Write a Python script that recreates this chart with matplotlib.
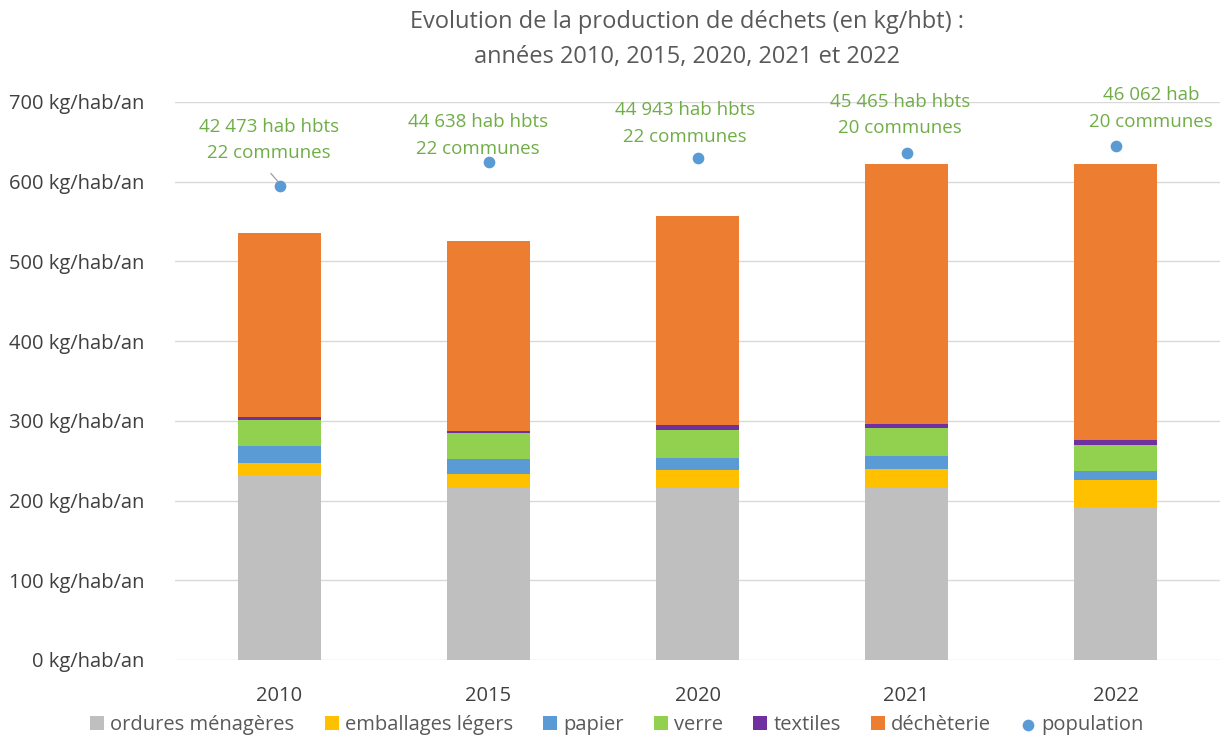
import matplotlib
matplotlib.use("Agg")
import matplotlib.pyplot as plt
import numpy as np

plt.rcParams['font.family'] = ['Open Sans', 'DejaVu Sans']

years = ["2010", "2015", "2020", "2021", "2022"]
ordures = [231.5, 216, 216, 216, 192]
emballages = [15.7, 17.6, 22.5, 23.7, 34.3]
papier = [21.8, 18.4, 15.0, 15.6, 10.4]
verre = [31.8, 32.2, 35.6, 35.4, 33.5]
textiles = [4.1, 3.2, 5.4, 5.4, 5.4]
decheterie = [231, 238, 262, 325.5, 346]
population = [42473, 44638, 44943, 45465, 46062]
pop_labels = ["42 473 hab hbts\n22 communes", "44 638 hab hbts\n22 communes",
              "44 943 hab hbts\n22 communes", "45 465 hab hbts\n20 communes",
              "46 062 hab\n20 communes"]
yticks = [0, 100, 200, 300, 400, 500, 600, 700]

series = [("ordures ménagères", ordures, "#BFBFBF"),
          ("emballages légers", emballages, "#FFC000"),
          ("papier", papier, "#5B9BD5"),
          ("verre", verre, "#92D050"),
          ("textiles", textiles, "#7030A0"),
          ("déchèterie", decheterie, "#ED7D31")]

fig = plt.figure(figsize=(12.32, 7.38), dpi=100)
ax = fig.add_axes([175/1232, 78/738, 1045/1232, 558/738])
x = np.arange(len(years))
bottom = np.zeros(len(years))
handles = []
for name, vals, col in series:
    b = ax.bar(x, vals, 0.4, bottom=bottom, color=col, label=name, zorder=2)
    handles.append(b)
    bottom += np.array(vals)

ax.set_xlim(-0.5, 4.5)
ax.set_ylim(0, 700)
ax.set_yticks(yticks)
ax.set_yticklabels([f"{v} kg/hab/an" for v in yticks])
ax.set_xticks(x)
ax.set_xticklabels(years)
ax.tick_params(axis='both', length=0, labelsize=14.5, colors="#404040")
ax.tick_params(axis='y', pad=22)
ax.tick_params(axis='x', pad=19)
ax.grid(axis='y', color="#D9D9D9", linewidth=1, zorder=0)
for s in ax.spines.values():
    s.set_visible(False)

ax2 = ax.twinx()
ax2.set_ylim(0, 50000)
ax2.axis('off')
pts = ax2.scatter(x, population, s=55, color="#5B9BD5", zorder=3, label="population")

label_pos = [(-0.05, 652), (0.95, 658), (1.94, 673), (2.97, 684), (4.17, 692)]
for i, (lx, ly) in enumerate(label_pos):
    ax.text(lx, ly, pop_labels[i], ha='center', va='center', fontsize=13.5,
            color="#70AD47", linespacing=1.6, zorder=4)
ax.annotate("", xy=(x[0], 598), xytext=(-0.05, 613),
            arrowprops=dict(arrowstyle='-', color="#A6A6A6", lw=1))

fig.text(687/1232, 1 - 22/738, "Evolution de la production de déchets (en kg/hbt) :",
         ha='center', va='center', fontsize=17, color="#595959")
fig.text(687/1232, 1 - 57/738, "années 2010, 2015, 2020, 2021 et 2022",
         ha='center', va='center', fontsize=17, color="#595959")

leg = fig.legend(handles + [pts], [s[0] for s in series] + ["population"],
                 loc='center', bbox_to_anchor=(617/1232, 1 - 725/738), ncol=7, frameon=False,
                 fontsize=14.5, handlelength=0.7, handleheight=0.7, handletextpad=0.3,
                 columnspacing=1.5, labelcolor="#595959")

fig.savefig("out.png", dpi=100)
